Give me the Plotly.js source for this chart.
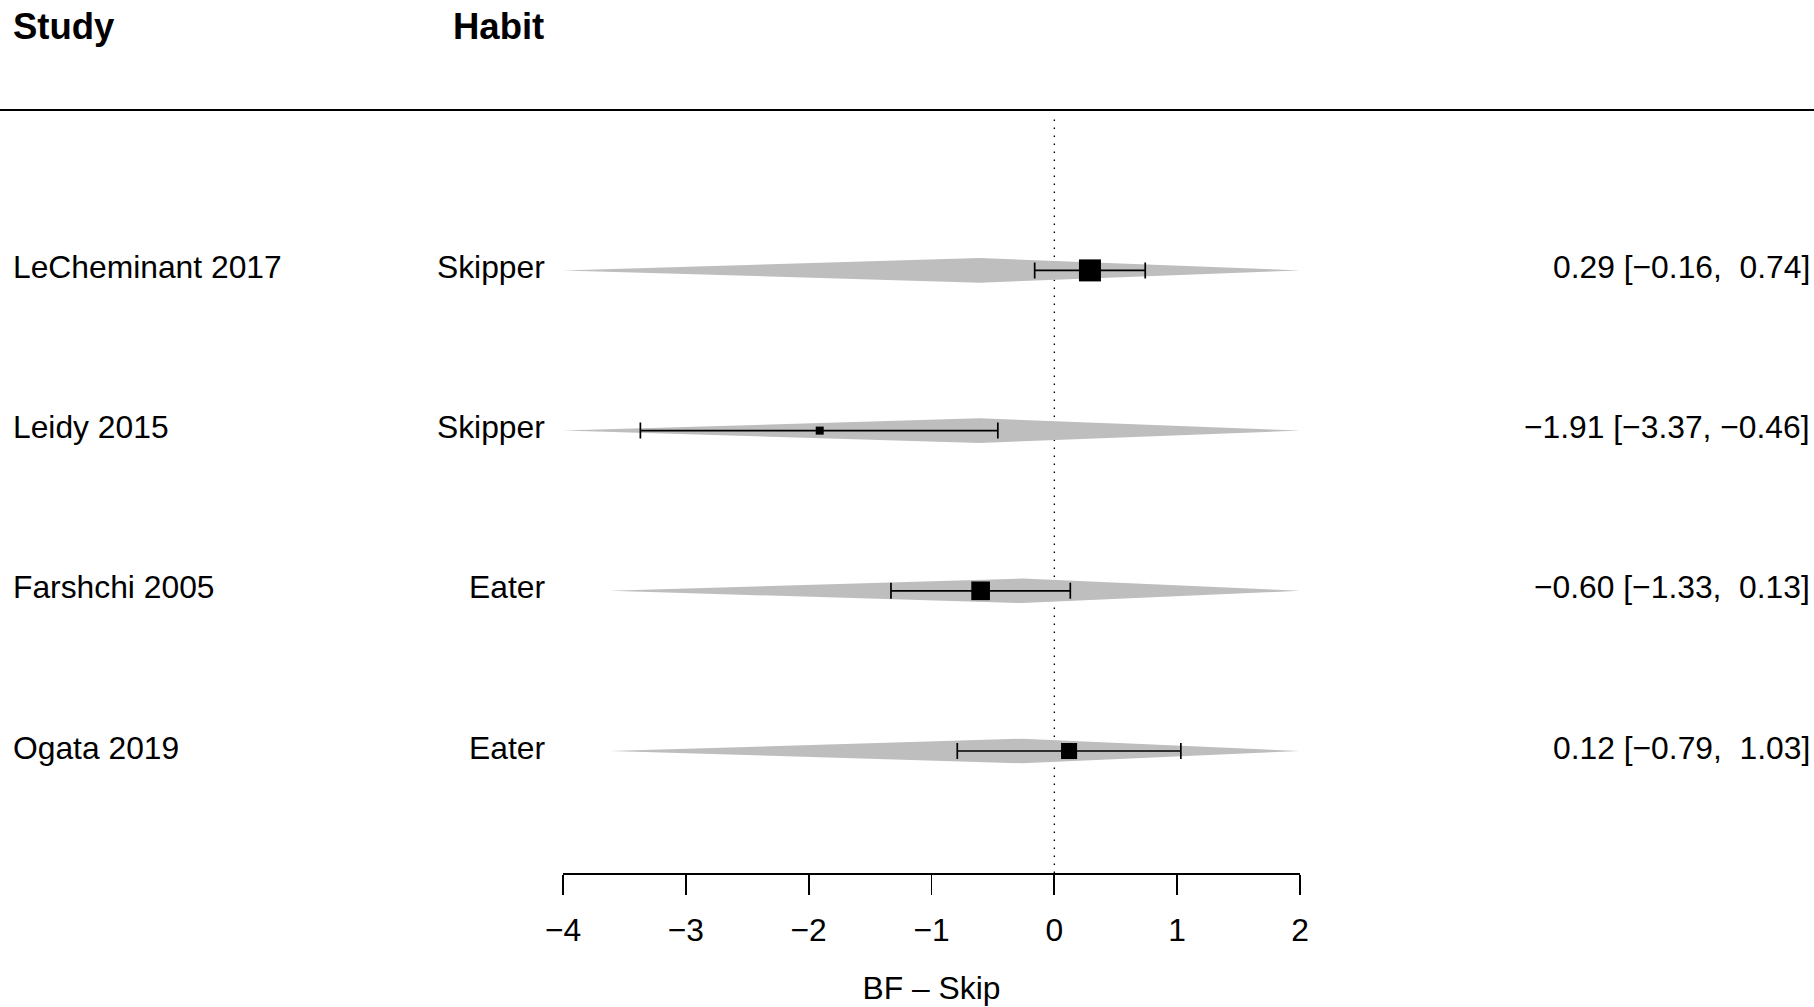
<!DOCTYPE html>
<html>
<head>
<meta charset="utf-8">
<script src="https://cdn.plot.ly/plotly-3.0.1.min.js"></script>
<style>html,body{margin:0;padding:0;background:#fff;}#chart{width:1814px;height:1007px;}</style>
</head>
<body>
<div id="chart"></div>
<script>
// ---- data ----
const studies   = ["LeCheminant 2017", "Leidy 2015", "Farshchi 2005", "Ogata 2019"];
const habits    = ["Skipper", "Skipper", "Eater", "Eater"];
const estimates = [0.29, -1.91, -0.60, 0.12];
const ciLower   = [-0.16, -3.37, -1.33, -0.79];
const ciUpper   = [0.74, -0.46, 0.13, 1.03];
const weights   = [28.8, 19.6, 26.6, 24.9];
const distLower = [-4.00, -4.00, -3.62, -3.62];  // grey polygon extent per row
const distPeak  = [-0.61, -0.61, -0.26, -0.26];
const distUpper = [2.00, 2.00, 2.00, 2.00];
const xTicks    = [-4, -3, -2, -1, 0, 1, 2];
const xLabel    = "BF \u2013 Skip";
const headers   = ["Study", "Habit"];

// ---- layout geometry (pixels) ----
const FW = 1814, FH = 1007;
const L = 563, R = 514, T = 0, B = 134;
const PW = FW - L - R, PH = FH - T - B;
const xp = p => (p - L) / PW;            // pixel x -> paper
const yp = p => (FH - B - p) / PH;       // pixel y -> paper
const FONT = '"Liberation Sans", Arial, Helvetica, sans-serif';
const FS = 31.8;
const XRANGE = [xTicks[0], xTicks[xTicks.length - 1]];

const n = studies.length;
const rows = studies.map((_, i) => n - i);
const halfH = 0.0768;   // half-height of grey polygon in row units

const minus = v => (v < 0 ? "\u2212" : "") + Math.abs(v).toFixed(2);
const pad = v => (v < 0 ? "" : "\u00A0") + minus(v);
const ciText = estimates.map((e, i) => minus(e) + " [" + pad(ciLower[i]) + ", " + pad(ciUpper[i]) + "]");

const traces = [];
rows.forEach((r, i) => {
  traces.push({
    type: "scatter", mode: "lines", fill: "toself",
    x: [distLower[i], distPeak[i], distUpper[i], distPeak[i], distLower[i]],
    y: [r, r + halfH, r, r - halfH, r],
    fillcolor: "#BEBEBE", line: {width: 0, color: "#BEBEBE"},
    hoverinfo: "skip", showlegend: false
  });
});
const wMin = Math.min(...weights), wMax = Math.max(...weights);
traces.push({
  type: "scatter", mode: "markers", xaxis: "x2", yaxis: "y",
  x: estimates, y: rows,
  marker: {symbol: "square", color: "#000", opacity: 1,
           size: weights.map(w => 8 + (w - wMin) / (wMax - wMin) * 14),
           line: {width: 0}},
  error_x: {type: "data", symmetric: false,
            array: estimates.map((e, i) => ciUpper[i] - e),
            arrayminus: estimates.map((e, i) => e - ciLower[i]),
            color: "#000", thickness: 1.7, width: 8},
  hoverinfo: "skip", showlegend: false
});

const ann = [];
const mk = (text, xpx, anchor, yv, yref, opts) => Object.assign({
  text: text, x: xp(xpx), xref: "paper", xanchor: anchor,
  y: yv, yref: yref, yanchor: "middle", showarrow: false,
  font: {family: FONT, size: FS, color: "#000"}
}, opts || {});
rows.forEach((r, i) => {
  ann.push(mk(studies[i], 10.5, "left", r + 0.021, "y"));
  ann.push(mk(habits[i], 546.5, "right", r + 0.021, "y"));
  ann.push(mk(ciText[i], 1811.5, "right", r + 0.021, "y"));
});
ann.push(mk("<b>" + headers[0] + "</b>", 11, "left", yp(26), "paper", {font: {family: FONT, size: 36.5, color: "#000"}}));
ann.push(mk("<b>" + headers[1] + "</b>", 546, "right", yp(26), "paper", {font: {family: FONT, size: 36.5, color: "#000"}}));

const layout = {
  width: FW, height: FH,
  margin: {l: L, r: R, t: T, b: B, pad: 0},
  paper_bgcolor: "#fff", plot_bgcolor: "#fff",
  showlegend: false,
  font: {family: FONT, size: FS, color: "#000"},
  // axis line + tick marks
  xaxis: {
    range: XRANGE, showgrid: false, zeroline: false,
    showline: true, linecolor: "#000", linewidth: 1.8,
    tickmode: "array", tickvals: xTicks, showticklabels: false,
    ticks: "outside", ticklen: 20, tickwidth: 1.8, tickcolor: "#000",
    fixedrange: true, automargin: false
  },
  // same scale, carries tick labels and title
  xaxis2: {
    overlaying: "x", anchor: "y", side: "bottom",
    range: XRANGE, showgrid: false, zeroline: false, showline: false,
    tickmode: "array", tickvals: xTicks,
    ticks: "outside", ticklen: 29, tickwidth: 1, tickcolor: "rgba(0,0,0,0)",
    tickfont: {family: FONT, size: FS, color: "#000"},
    title: {text: xLabel, font: {family: FONT, size: FS, color: "#000"}, standoff: 28.6},
    fixedrange: true, automargin: false
  },
  yaxis: {
    range: [0.2385, 5.688], visible: false, showgrid: false, zeroline: false,
    fixedrange: true
  },
  shapes: [
    {type: "line", xref: "x", x0: 0, x1: 0, yref: "paper", y0: 0, y1: yp(113),
     line: {color: "#000", width: 1.4, dash: "1.4px,6.6px"}, layer: "below"},
    {type: "line", xref: "paper", x0: xp(0), x1: xp(FW), yref: "paper", y0: yp(110), y1: yp(110),
     line: {color: "#000", width: 2}}
  ],
  annotations: ann
};

Plotly.newPlot("chart", traces, layout, {staticPlot: true, displayModeBar: false});
</script>
</body>
</html>
